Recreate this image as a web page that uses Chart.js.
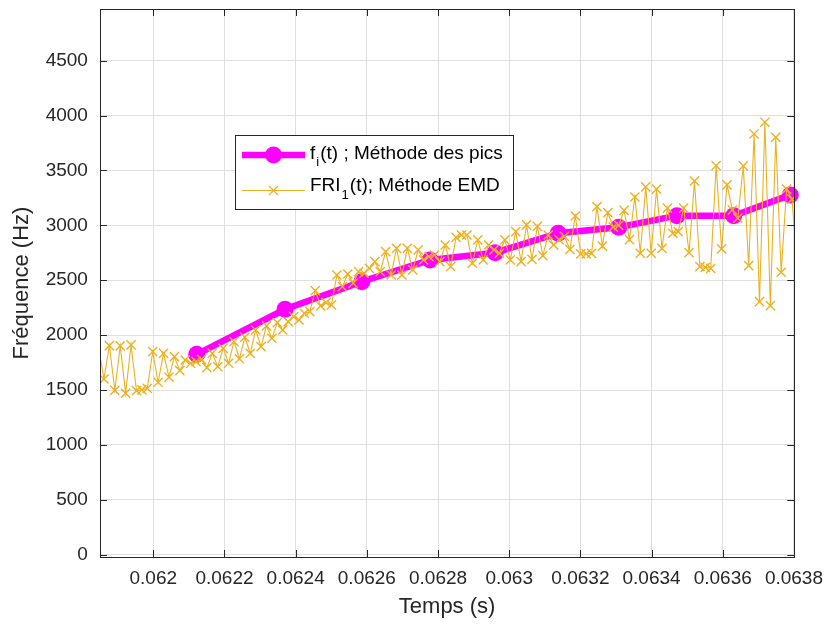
<!DOCTYPE html>
<html>
<head>
<meta charset="utf-8">
<script src="https://cdn.jsdelivr.net/npm/chart.js@4.4.0/dist/chart.umd.min.js"></script>
<style>
  html, body { margin:0; padding:0; background:#fff; }
  #wrap { width:827px; height:624px; }
</style>
</head>
<body>
<div id="wrap"><canvas id="chart" width="827" height="624"></canvas></div>
<script>
// ----- Data -----
// f_i(t) ; Méthode des pics
var tPics = [0.0621220, 0.0623702, 0.0625858, 0.0627778, 0.0629605, 0.0631376, 0.0633077, 0.0634713, 0.0636309, 0.0637897];
var fPics = [1826, 2236, 2487, 2685, 2751, 2928, 2983, 3088, 3088, 3277];

// FRI_1(t) ; Méthode EMD (sampled signal, first and last points fall outside the axes)
var tEMD = [
  0.0618462, 0.0618614, 0.0618766, 0.0618919, 0.0619071, 0.0619223, 0.0619375, 0.0619528, 0.0619680, 0.0619832,
  0.0619984, 0.0620136, 0.0620289, 0.0620441, 0.0620593, 0.0620745, 0.0620897, 0.0621050, 0.0621202, 0.0621354,
  0.0621506, 0.0621659, 0.0621811, 0.0621963, 0.0622115, 0.0622267, 0.0622420, 0.0622572, 0.0622724, 0.0622876,
  0.0623028, 0.0623181, 0.0623333, 0.0623485, 0.0623637, 0.0623790, 0.0623942, 0.0624094, 0.0624246, 0.0624398,
  0.0624551, 0.0624703, 0.0624855, 0.0625007, 0.0625159, 0.0625312, 0.0625464, 0.0625616, 0.0625768, 0.0625920,
  0.0626073, 0.0626225, 0.0626377, 0.0626529, 0.0626682, 0.0626834, 0.0626986, 0.0627138, 0.0627290, 0.0627443,
  0.0627595, 0.0627747, 0.0627899, 0.0628052, 0.0628204, 0.0628356, 0.0628508, 0.0628660, 0.0628813, 0.0628965,
  0.0629117, 0.0629269, 0.0629421, 0.0629574, 0.0629726, 0.0629878, 0.0630030, 0.0630183, 0.0630335, 0.0630487,
  0.0630639, 0.0630791, 0.0630944, 0.0631096, 0.0631248, 0.0631400, 0.0631552, 0.0631705, 0.0631857, 0.0632009,
  0.0632161, 0.0632314, 0.0632466, 0.0632618, 0.0632770, 0.0632922, 0.0633075, 0.0633227, 0.0633379, 0.0633531,
  0.0633683, 0.0633836, 0.0633988, 0.0634140, 0.0634292, 0.0634445, 0.0634597, 0.0634749, 0.0634901, 0.0635053,
  0.0635206, 0.0635358, 0.0635510, 0.0635662, 0.0635814, 0.0635967, 0.0636119, 0.0636271, 0.0636423, 0.0636576,
  0.0636728, 0.0636880, 0.0637032, 0.0637184, 0.0637337, 0.0637489, 0.0637641, 0.0637793, 0.0637945, 0.0638098
];
var fEMD = [
  1890, 1601, 1904, 1498, 1902, 1471, 1911, 1495, 1501, 1516,
  1850, 1571, 1835, 1617, 1804, 1677, 1774, 1744, 1759, 1780,
  1704, 1835, 1713, 1880, 1744, 1941, 1785, 1981, 1835, 2047,
  1895, 2084, 1972, 2114, 2047, 2123, 2168, 2138, 2199, 2214,
  2405, 2266, 2296, 2275, 2548, 2442, 2557, 2473, 2578, 2564,
  2609, 2669, 2578, 2760, 2548, 2791, 2548, 2791, 2594, 2776,
  2685, 2715, 2730, 2669, 2821, 2625, 2890, 2912, 2912, 2655,
  2867, 2685, 2821, 2776, 2746, 2867, 2685, 2943, 2669, 3004,
  2690, 2990, 2725, 2912, 2821, 2870, 2900, 2780, 3085, 2740,
  2740, 2745, 3170, 2810, 3115, 2985, 3000, 3137, 2870, 3258,
  2746, 3350, 2746, 3329, 2791, 3156, 2928, 2943, 3156, 2751,
  3404, 2624, 2618, 2609, 3544, 2785, 3368, 3140, 3065, 3541,
  2633, 3832, 2305, 3939, 2269, 3802, 2573, 3329, 3238, 2620
];

// Axes
var xTicks = [0.062, 0.0622, 0.0624, 0.0626, 0.0628, 0.063, 0.0632, 0.0634, 0.0636, 0.0638];
var xTickLabels = ['0.062', '0.0622', '0.0624', '0.0626', '0.0628', '0.063', '0.0632', '0.0634', '0.0636', '0.0638'];
var yTicks = [0, 500, 1000, 1500, 2000, 2500, 3000, 3500, 4000, 4500];
var yTickLabels = ['0', '500', '1000', '1500', '2000', '2500', '3000', '3500', '4000', '4500'];
var xMin = 0.06185, xMax = 0.063801;
var yMin = -20, yMax = 4970;

var MAGENTA = '#ff00ff';
var ORANGE = '#edb120';
var AXIS = '#262626';
var FONT = '"Liberation Sans", Arial, Helvetica, sans-serif';

function pairs(xs, ys) {
  var out = [];
  for (var i = 0; i < xs.length; i++) out.push({x: xs[i], y: ys[i]});
  return out;
}

// ----- Box, inner ticks and legend (MATLAB style) -----
var matlabBox = {
  id: 'matlabBox',
  afterDraw: function(chart) {
    var ctx = chart.ctx, a = chart.chartArea;
    var xs = chart.scales.x, ys = chart.scales.y;
    ctx.save();
    ctx.strokeStyle = AXIS;
    ctx.lineWidth = 1;
    ctx.beginPath();
    xTicks.forEach(function(v) {
      var px = Math.round(xs.getPixelForValue(v)) + 0.5;
      ctx.moveTo(px, a.bottom); ctx.lineTo(px, a.bottom - 7);
      ctx.moveTo(px, a.top); ctx.lineTo(px, a.top + 7);
    });
    yTicks.forEach(function(v) {
      var py = Math.round(ys.getPixelForValue(v)) + 0.5;
      ctx.moveTo(a.left, py); ctx.lineTo(a.left + 7, py);
      ctx.moveTo(a.right, py); ctx.lineTo(a.right - 7, py);
    });
    ctx.stroke();
    ctx.strokeRect(Math.round(a.left) + 0.5, Math.round(a.top) + 0.5,
                   Math.round(a.right - a.left), Math.round(a.bottom - a.top));

    // legend
    var L = 235, T = 135, W = 278, H = 74;
    ctx.fillStyle = '#fff';
    ctx.fillRect(L, T, W, H);
    ctx.strokeStyle = AXIS;
    ctx.strokeRect(L + 0.5, T + 0.5, W, H);

    // entry 1
    ctx.strokeStyle = MAGENTA;
    ctx.lineWidth = 6.5;
    ctx.beginPath(); ctx.moveTo(242, 155); ctx.lineTo(305, 155); ctx.stroke();
    ctx.fillStyle = MAGENTA;
    ctx.beginPath(); ctx.arc(273.5, 155, 8.5, 0, Math.PI * 2); ctx.fill();

    // entry 2
    ctx.strokeStyle = ORANGE;
    ctx.lineWidth = 1.2;
    ctx.beginPath(); ctx.moveTo(242, 190.5); ctx.lineTo(305, 190.5); ctx.stroke();
    ctx.beginPath();
    ctx.moveTo(269, 186); ctx.lineTo(278, 195);
    ctx.moveTo(278, 186); ctx.lineTo(269, 195);
    ctx.stroke();

    ctx.fillStyle = '#000';
    ctx.textBaseline = 'middle';
    ctx.textAlign = 'left';
    var big = '19px ' + FONT, small = '13px ' + FONT;
    var x = 310;
    ctx.font = big; ctx.fillText('f', x, 154); x += ctx.measureText('f').width;
    ctx.font = small; ctx.fillText('i', x + 1, 162); x += ctx.measureText('i').width + 2;
    ctx.font = big; ctx.fillText('(t) ; Méthode des pics', x, 154);

    x = 310;
    ctx.font = big; ctx.fillText('FRI', x, 186); x += ctx.measureText('FRI').width;
    ctx.font = small; ctx.fillText('1', x + 1, 195); x += ctx.measureText('1').width + 2;
    ctx.font = big; ctx.fillText('(t); Méthode EMD', x, 186);
    ctx.restore();
  }
};

// ----- Chart -----
Chart.defaults.font.family = FONT;
Chart.defaults.color = AXIS;

var ctx = document.getElementById('chart').getContext('2d');
var chart = new Chart(ctx, {
  type: 'line',
  data: {
    datasets: [
      {
        label: 'FRI1(t); Méthode EMD',
        data: pairs(tEMD, fEMD),
        borderColor: ORANGE,
        borderWidth: 1.1,
        pointStyle: 'crossRot',
        pointBorderColor: ORANGE,
        pointBorderWidth: 1.4,
        pointRadius: function(c) {
          if (!c.raw) return 6.5;
          return (c.raw.x < xMin || c.raw.x > xMax) ? 0 : 6.5;
        },
        tension: 0,
        clip: 0,
        order: 0
      },
      {
        label: 'fi(t) ; Méthode des pics',
        data: pairs(tPics, fPics),
        borderColor: MAGENTA,
        backgroundColor: MAGENTA,
        borderWidth: 6.5,
        pointStyle: 'circle',
        pointRadius: 8.5,
        pointBorderWidth: 0,
        pointBackgroundColor: MAGENTA,
        tension: 0,
        clip: false,
        order: 1
      }
    ]
  },
  options: {
    responsive: false,
    animation: false,
    devicePixelRatio: 1,
    layout: { padding: { left: 0, right: 32.7, top: 9, bottom: 0 } },
    plugins: { legend: { display: false }, tooltip: { enabled: false } },
    scales: {
      x: {
        type: 'linear',
        min: xMin, max: xMax,
        afterBuildTicks: function(s) { s.ticks = xTicks.map(function(v) { return {value: v}; }); },
        afterFit: function(s) { s.height = 67; s.paddingLeft = 0; s.paddingRight = 0; },
        ticks: {
          autoSkip: false, maxRotation: 0, padding: 10,
          font: { size: 19 },
          callback: function(v, i) { return xTickLabels[i]; }
        },
        grid: { color: '#dfdfdf', lineWidth: 1, drawTicks: false },
        border: { display: false },
        title: { display: true, text: 'Temps (s)', font: { size: 22 }, padding: { top: 0, bottom: 4 } }
      },
      y: {
        type: 'linear',
        min: yMin, max: yMax,
        afterBuildTicks: function(s) { s.ticks = yTicks.map(function(v) { return {value: v}; }); },
        afterFit: function(s) { s.width = 99.9; s.paddingTop = 0; s.paddingBottom = 0; },
        ticks: {
          padding: 12, font: { size: 19 },
          callback: function(v, i) { return yTickLabels[i]; }
        },
        grid: { color: '#dfdfdf', lineWidth: 1, drawTicks: false },
        border: { display: false },
        title: { display: true, text: 'Fréquence (Hz)', font: { size: 22 }, padding: { top: 9, bottom: 0 } }
      }
    }
  },
  plugins: [matlabBox]
});
</script>
</body>
</html>
